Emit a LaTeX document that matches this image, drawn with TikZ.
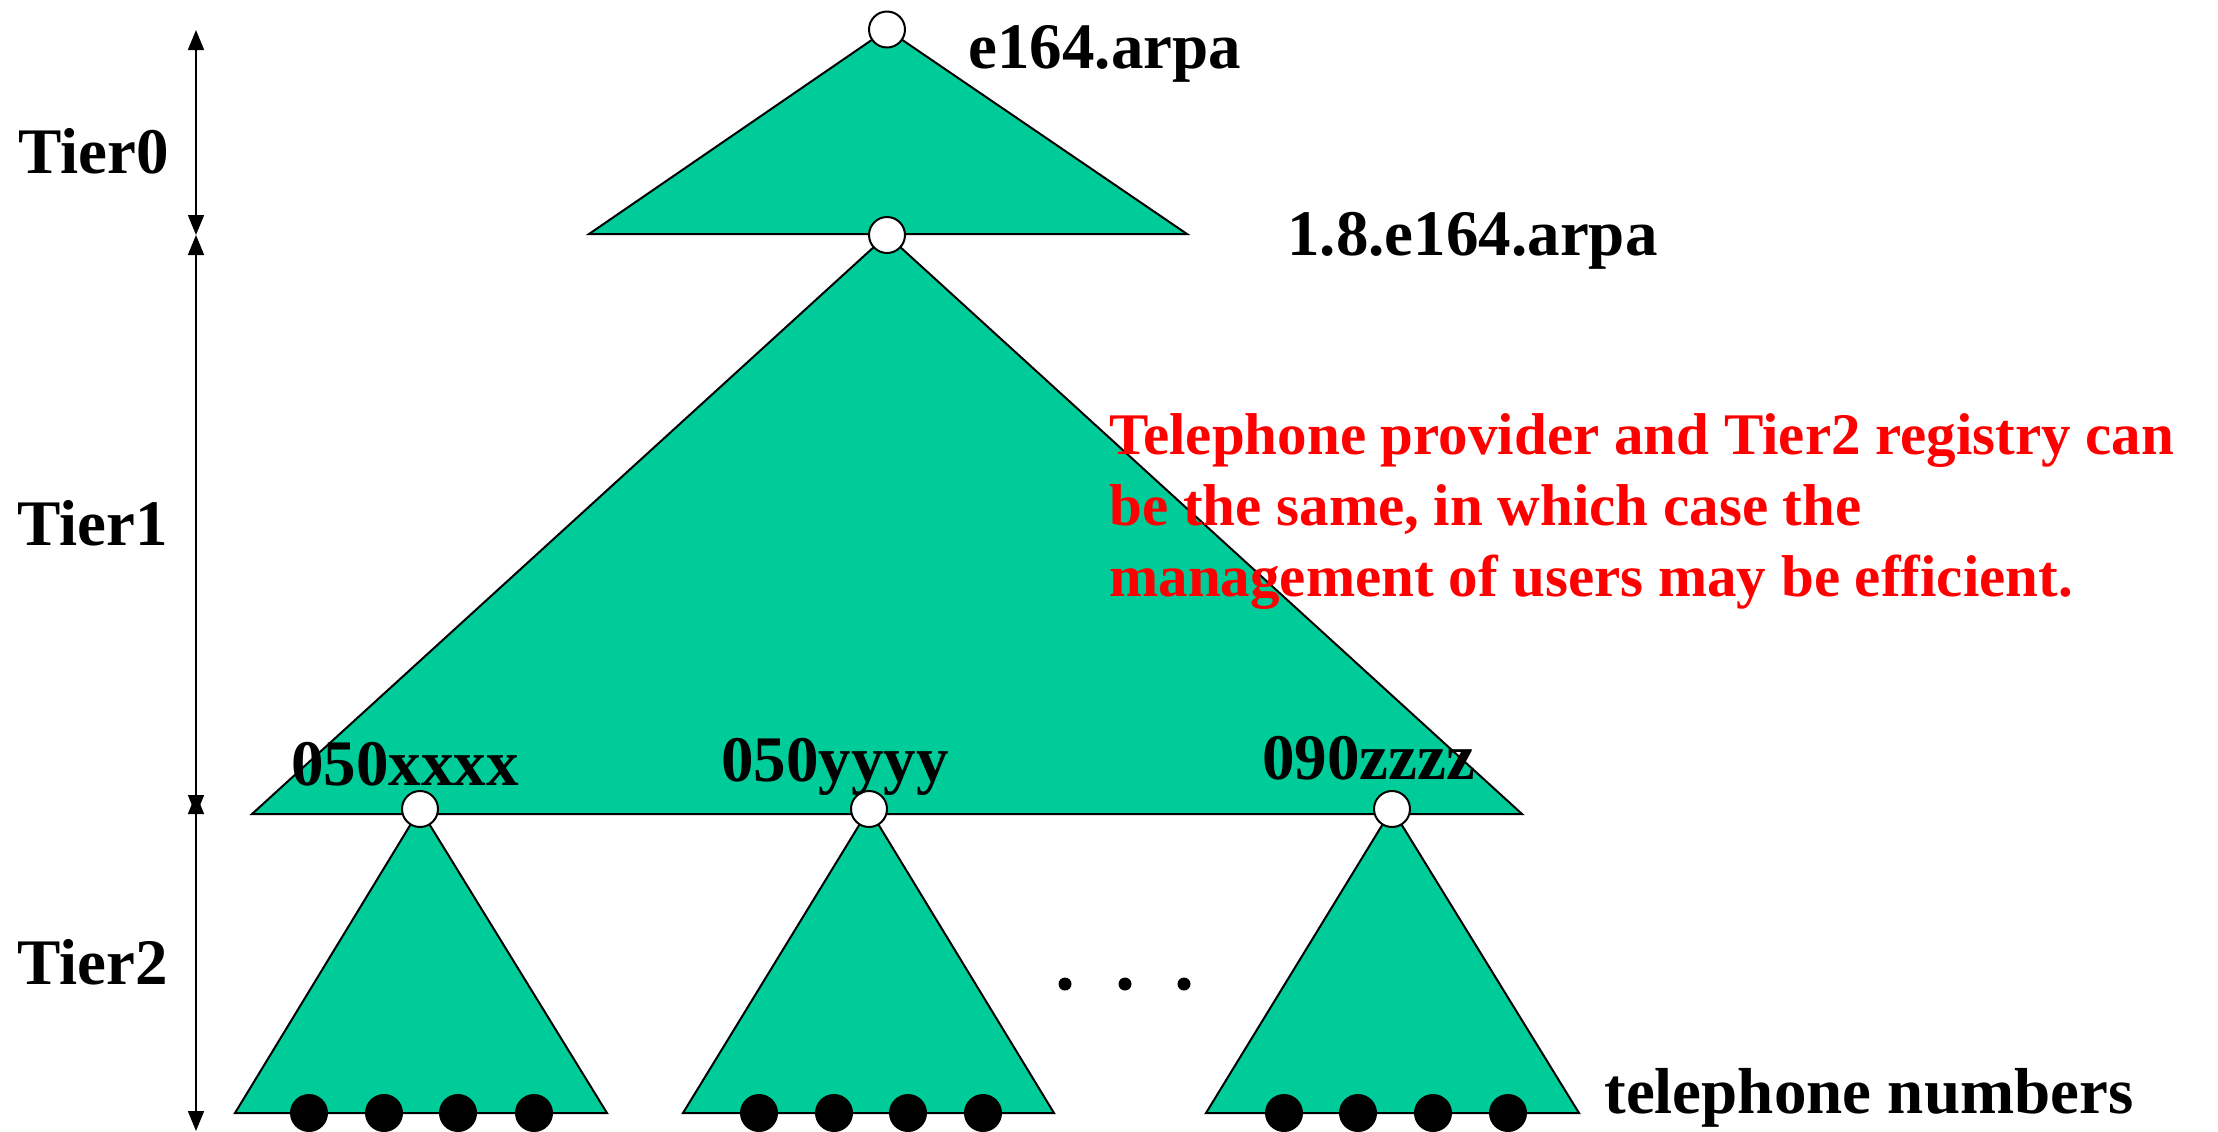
\documentclass[tikz,border=0pt]{standalone}
\usepackage{fontspec}
\setmainfont{Liberation Serif}
\usetikzlibrary{arrows.meta}
\definecolor{tgreen}{RGB}{0,204,153}
\definecolor{tred}{RGB}{255,0,0}
\begin{document}
\begin{tikzpicture}[x=0.5pt,y=-0.5pt,
  tri/.style={fill=tgreen,draw=black,line width=1pt,line join=miter},
  hollow/.style={circle,draw=black,fill=white,line width=1pt,minimum size=18pt,inner sep=0pt},
  leaf/.style={circle,fill=black,minimum size=19pt,inner sep=0pt},
  smalldot/.style={circle,fill=black,minimum size=6.5pt,inner sep=0pt},
  lbl/.style={font=\fontsize{32.5}{39}\selectfont\bfseries,inner sep=0pt,anchor=base west},
  note/.style={font=\fontsize{29.5}{35.5}\selectfont\bfseries,text=tred,inner sep=0pt,align=left,anchor=north west},
  dimarrow/.style={line width=0.8pt,{Triangle[length=10pt,width=8pt]}-{Triangle[length=10pt,width=8pt]}},
]
\useasboundingbox (0,0) rectangle (2218,1131);
% positions of the tree nodes
\coordinate (p0) at (887,29.5);
\coordinate (p1) at (887,235);
\coordinate (px) at (420,809);
\coordinate (py) at (869,809);
\coordinate (pz) at (1392,809);
% triangles
\draw[tri] (p0) -- (1187,234) -- (589,234) -- cycle;
\draw[tri] (p1) -- (1522,814) -- (252,814) -- cycle;
\draw[tri] (px) -- (607,1113) -- (235,1113) -- cycle;
\draw[tri] (py) -- (1054,1113) -- (683,1113) -- cycle;
\draw[tri] (pz) -- (1579,1113) -- (1206,1113) -- cycle;
% hollow nodes
\node[hollow] (n0) at (p0) {};
\node[hollow] (n1) at (p1) {};
\node[hollow] (nx) at (px) {};
\node[hollow] (ny) at (py) {};
\node[hollow] (nz) at (pz) {};
% leaves
\foreach \i/\x in {1/309,2/384,3/458,4/534}{\node[leaf] (lx\i) at (\x,1113) {};}
\foreach \i/\x in {1/759,2/834,3/908,4/983}{\node[leaf] (ly\i) at (\x,1113) {};}
\foreach \i/\x in {1/1284,2/1358,3/1433,4/1508}{\node[leaf] (lz\i) at (\x,1113) {};}
% ellipsis
\node[smalldot] (e1) at (1065,984) {};
\node[smalldot] (e2) at (1125,984) {};
\node[smalldot] (e3) at (1184,984) {};
% tier arrows
\coordinate (a0) at (196,30);
\coordinate (a1) at (196,235);
\coordinate (a2t) at (196,794);
\coordinate (a2b) at (196,815);
\coordinate (a3) at (196,1131);
\draw[dimarrow] (a0) -- (a1);
\draw[dimarrow] (a1) -- (a2b);
\draw[dimarrow] (a2t) -- (a3);
% labels
\node[lbl] (t0) at (18,173) {Tier0};
\node[lbl] (t1) at (17,545) {Tier1};
\node[lbl] (t2) at (17,984) {Tier2};
\node[lbl] (l0) at (968,68) {e164.arpa};
\node[lbl] (l1) at (1287,255) {1.8.e164.arpa};
\node[lbl] (lx) at (291,785) {050xxxx};
\node[lbl] (ly) at (721,781) {050yyyy};
\node[lbl] (lz) at (1262,779) {090zzzz};
\node[lbl] (tn) at (1604,1113) {telephone numbers};
\node[note] (nt) at (1109,413) {Telephone provider and Tier2 registry can\\be the same, in which case the\\management of users may be efficient.};
\end{tikzpicture}
\end{document}
